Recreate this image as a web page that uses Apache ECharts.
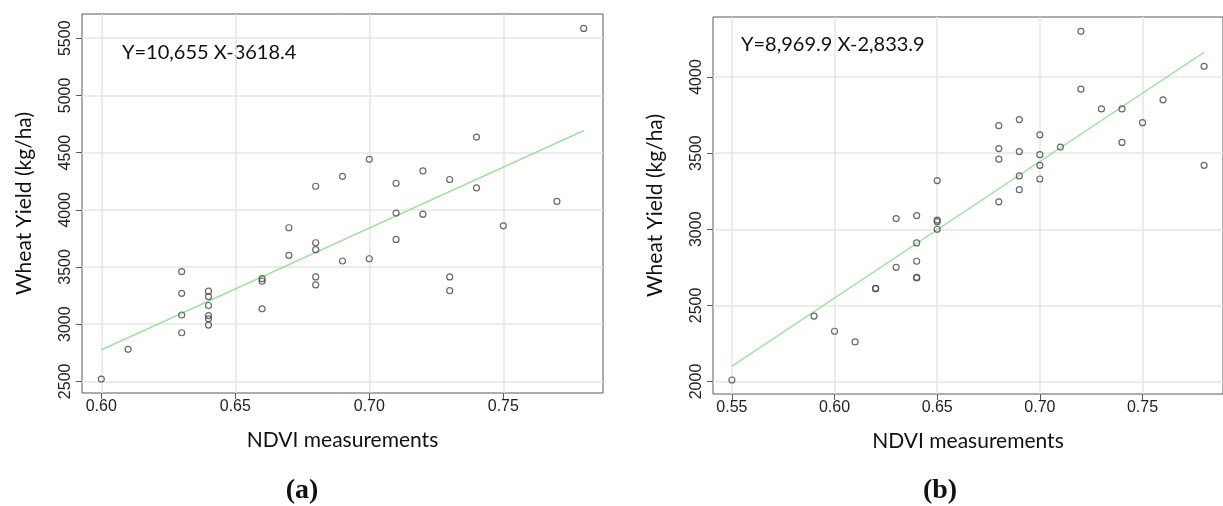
<!DOCTYPE html>
<html>
<head>
<meta charset="utf-8">
<script src="https://cdn.jsdelivr.net/npm/echarts@6/dist/echarts.min.js"></script>
<style>html,body{margin:0;padding:0;background:#fff;}#c{width:1223px;height:506px;}</style>
</head>
<body>
<div id="c"></div>
<script>
// ---------- Panel (a) data ----------
const ndviA = [0.60,0.61,0.63,0.63,0.63,0.63,0.64,0.64,0.64,0.64,0.64,0.64,0.66,0.66,0.66,0.67,0.67,0.68,0.68,0.68,0.68,0.68,0.69,0.69,0.70,0.70,0.71,0.71,0.71,0.72,0.72,0.73,0.73,0.73,0.74,0.74,0.75,0.77,0.78];
const yieldA = [2520,2780,3460,3270,3080,2925,3288,3241,3163,3075,3047,2992,3398,3375,3134,3843,3602,4206,3712,3651,3413,3343,4293,3552,4441,3572,4232,3971,3741,4340,3962,4265,3413,3293,4636,4191,3860,4073,5586];
const fitA = [[0.60, 2775], [0.78, 4693]];
const eqA = 'Y=10,655 X-3618.4';
const xTicksA = [0.60, 0.65, 0.70, 0.75];
const yTicksA = [2500, 3000, 3500, 4000, 4500, 5000, 5500];

// ---------- Panel (b) data ----------
const ndviB = [0.55,0.59,0.60,0.61,0.62,0.62,0.63,0.63,0.64,0.64,0.64,0.64,0.64,0.65,0.65,0.65,0.65,0.68,0.68,0.68,0.68,0.69,0.69,0.69,0.69,0.70,0.70,0.70,0.70,0.71,0.72,0.72,0.73,0.74,0.74,0.75,0.76,0.78,0.78];
const yieldB = [2010,2430,2330,2260,2610,2612,3070,2750,3090,2910,2790,2680,2684,3320,3060,3050,3000,3680,3530,3460,3180,3720,3510,3350,3260,3620,3490,3420,3330,3540,4300,3920,3790,3790,3570,3700,3850,4070,3420];
const fitB = [[0.55, 2100], [0.78, 4163]];
const eqB = 'Y=8,969.9 X-2,833.9';
const xTicksB = [0.55, 0.60, 0.65, 0.70, 0.75];
const yTicksB = [2000, 2500, 3000, 3500, 4000];

const xTitle = 'NDVI measurements';
const yTitle = 'Wheat Yield (kg/ha)';
const panelLabels = ['(a)', '(b)'];

const pairs = (xs, ys) => xs.map((x, i) => [x, ys[i]]);

const frameColor = '#5a5a5a';
const gridColor = '#e6e6e6';
const titleFont = 'Lato';
const tickFont = 'Liberation Sans';

function xAxisCfg(idx, min, max, ticks) {
  return {
    type: 'value', gridIndex: idx, min: min, max: max,
    axisLine: { show: false },
    axisTick: { show: true, length: 6, customValues: ticks, lineStyle: { color: frameColor } },
    axisLabel: { customValues: ticks, formatter: v => v.toFixed(2), fontFamily: tickFont, fontSize: 16, color: '#222', margin: 6 },
    splitLine: { show: true, customValues: ticks, lineStyle: { color: gridColor, width: 1.5 } },
    name: xTitle, nameLocation: 'middle', nameGap: 37,
    nameTextStyle: { fontFamily: titleFont, fontSize: 21, color: '#111' }
  };
}
function yAxisCfg(idx, min, max, ticks) {
  return {
    type: 'value', gridIndex: idx, min: min, max: max,
    axisLine: { show: false },
    axisTick: { show: true, length: 6, customValues: ticks, lineStyle: { color: frameColor } },
    axisLabel: { customValues: ticks, formatter: v => String(Math.round(v)), rotate: 90, fontFamily: tickFont, fontSize: 16, color: '#222', margin: 8 },
    splitLine: { show: true, customValues: ticks, lineStyle: { color: gridColor, width: 1.5 } },
    name: yTitle, nameLocation: 'middle', nameGap: 47,
    nameTextStyle: { fontFamily: titleFont, fontSize: 21, color: '#111' }
  };
}
function scatterCfg(idx, data) {
  return {
    type: 'scatter', xAxisIndex: idx, yAxisIndex: idx, data: data, z: 3,
    symbol: 'circle', symbolSize: 6,
    itemStyle: { color: 'rgba(255,255,255,0)', borderColor: '#444', borderWidth: 1.2 },
    silent: true
  };
}
function fitCfg(idx, data) {
  return {
    type: 'line', xAxisIndex: idx, yAxisIndex: idx, data: data, z: 2,
    symbol: 'none', lineStyle: { color: '#8fe08f', width: 1.3 }, silent: true
  };
}

const chart = echarts.init(document.getElementById('c'), null, { renderer: 'canvas' });
chart.setOption({
  animation: false,
  backgroundColor: '#fff',
  grid: [
    { left: 82, top: 14, width: 521, height: 379, show: true, borderColor: frameColor, borderWidth: 1, backgroundColor: 'transparent' },
    { left: 713, top: 17, width: 520, height: 377, show: true, borderColor: frameColor, borderWidth: 1, backgroundColor: 'transparent' }
  ],
  xAxis: [
    xAxisCfg(0, 0.5928, 0.7872, xTicksA),
    xAxisCfg(1, 0.5408, 0.7892, xTicksB)
  ],
  yAxis: [
    yAxisCfg(0, 2398, 5712, yTicksA),
    yAxisCfg(1, 1918, 4394, yTicksB)
  ],
  series: [
    fitCfg(0, fitA), scatterCfg(0, pairs(ndviA, yieldA)),
    fitCfg(1, fitB), scatterCfg(1, pairs(ndviB, yieldB))
  ],
  graphic: [
    { type: 'text', left: 122, top: 43, style: { text: eqA, font: '20px ' + titleFont, fill: '#111' } },
    { type: 'text', left: 741, top: 35, style: { text: eqB, font: '20px ' + titleFont, fill: '#111' } },
    { type: 'text', x: 302, y: 491, style: { text: panelLabels[0], font: 'bold 28px "Liberation Serif"', fill: '#111', align: 'center', verticalAlign: 'middle' } },
    { type: 'text', x: 940, y: 491, style: { text: panelLabels[1], font: 'bold 28px "Liberation Serif"', fill: '#111', align: 'center', verticalAlign: 'middle' } }
  ]
});
</script>
</body>
</html>
